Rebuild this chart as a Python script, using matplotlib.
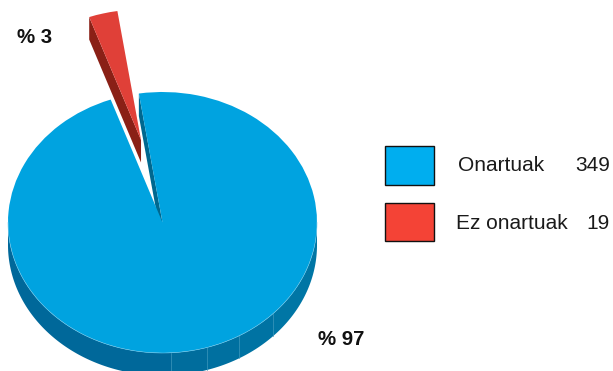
import numpy as np
import matplotlib
matplotlib.use("Agg")
import matplotlib.pyplot as plt
from matplotlib.patches import Rectangle

categories = ["Onartuak", "Ez onartuak"]
counts = [349, 19]
percent_values = [97, 3]
percent_labels = ["% 97", "% 3"]

W, H = 613, 371
CX, CY, RX, RY = 162.5, 222.5, 154.5, 130.5
DEPTH = 22.5 / RY
START = 109.6

fig = plt.figure(figsize=(W / 100, H / 100), dpi=100, facecolor="white")
ax = fig.add_axes([0, 0, 1, 1])

share = [v / sum(percent_values) for v in percent_values]
blue_end = START + share[0] * 360
red_center = (-0.139, (CY - 140) / RY)


def wall_arc(a1, a2, color, center=(0, 0), z=1):
    t = np.radians(np.linspace(a1, a2, 120))
    x = center[0] + np.cos(t)
    y = center[1] + np.sin(t)
    ax.fill(np.r_[x, x[::-1]], np.r_[y, y[::-1] - DEPTH], color=color, lw=0, zorder=z)


def wall_cut(angle, color, center=(0, 0), z=1):
    t = np.radians(angle)
    x = center[0] + np.array([0, np.cos(t), np.cos(t), 0])
    y = center[1] + np.array([0, np.sin(t), np.sin(t) - DEPTH, -DEPTH])
    ax.fill(x, y, color=color, lw=0, zorder=z)


# facets on the outer wall (screen x of each seam -> pie angle)
seam_px = [171, 207, 239, 273]
seams = [360 - np.degrees(np.arccos((p - CX) / RX)) for p in seam_px]
edges = [180] + seams + [360]
shades = ["#00689A", "#006D9D", "#0070A0", "#0073A3", "#0076A5"]
for a1, a2, c in zip(edges[:-1], edges[1:], shades):
    wall_arc(a1, a2, c, z=1)
for a in seams:
    t = np.radians(a)
    ax.plot([np.cos(t)] * 2, [np.sin(t), np.sin(t) - DEPTH], color="#3E98BC", lw=0.5, zorder=2)

# inner cut wall of the big slice, red slice walls
wall_cut(blue_end, "#00688F", z=2)
wall_cut(START + share[0] * 360 + share[1] * 360, "#8A2016", center=red_center, z=2)

# top faces
w1, _ = ax.pie([share[0]], startangle=START, colors=["#00A3E0"], normalize=False,
               radius=1, center=(0, 0), wedgeprops=dict(lw=0))
w2, _ = ax.pie([share[1]], startangle=blue_end, colors=["#E04038"], normalize=False,
               radius=1, center=red_center, wedgeprops=dict(lw=0))
for w in w1 + w2:
    w.set_zorder(3)

# light rim on the lower front edge
t = np.radians(np.linspace(180, 360, 200))
ax.plot(np.cos(t), np.sin(t), color="#6CC6EA", lw=0.4, zorder=4)

ax.set_aspect("auto")
ax.set_xlim((0 - CX) / RX, (W - CX) / RX)
ax.set_ylim((CY - H) / RY, CY / RY)
ax.axis("off")

# overlay in pixel coordinates for legend and labels
ov = fig.add_axes([0, 0, 1, 1], facecolor="none")
ov.set_xlim(0, W)
ov.set_ylim(H, 0)
ov.axis("off")

font = "Liberation Sans"
swatches = ["#00AEEF", "#F44336"]
box_y = [146, 203]
box_h = [39, 38]
label_x = [458, 456]
label_y = [171, 229]
for c, y, h, name, n, lx, ly in zip(swatches, box_y, box_h, categories, counts, label_x, label_y):
    ov.add_patch(Rectangle((385, y), 49, h, facecolor=c, edgecolor="#111111", lw=1.0))
    ov.text(lx, ly, name, family=font, fontsize=15.0, color="#1a1a1a", ha="left", va="baseline")
    ov.text(610, ly, str(n), family=font, fontsize=15.0, color="#1a1a1a", ha="right", va="baseline")

ov.text(318, 345, percent_labels[0], family=font, fontsize=14.7, weight="bold", color="#111111")
ov.text(17, 43, percent_labels[1], family=font, fontsize=14.7, weight="bold", color="#111111")

fig.savefig("out.png", dpi=100, facecolor="white")
